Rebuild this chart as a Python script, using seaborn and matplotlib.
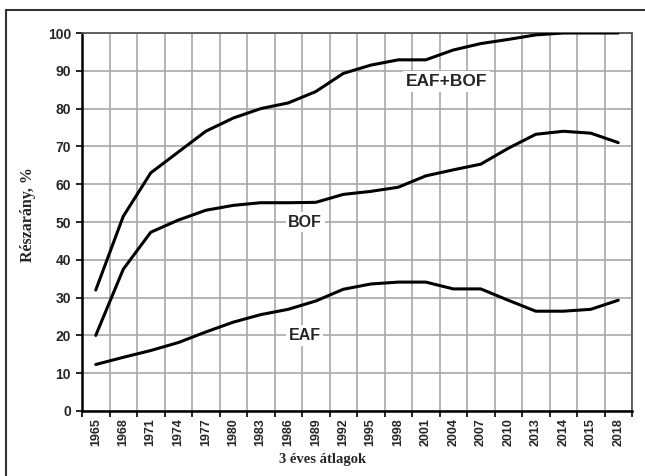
import numpy as np
import pandas as pd
import matplotlib
matplotlib.use("Agg")
import matplotlib.pyplot as plt
from matplotlib.lines import Line2D
import seaborn as sns

years = ['1965', '1968', '1971', '1974', '1977', '1980', '1983', '1986', '1989', '1992',
         '1995', '1998', '2001', '2004', '2007', '2010', '2013', '2014', '2015', '2018']
eaf_bof = [32, 51.5, 63, 68.5, 74, 77.5, 80, 81.5, 84.5, 89.3,
           91.5, 92.9, 92.9, 95.5, 97.2, 98.3, 99.5, 100, 100, 100]
bof = [20, 37.5, 47.3, 50.5, 53.1, 54.4, 55.1, 55.1, 55.2, 57.3,
       58.1, 59.2, 62.2, 63.8, 65.3, 69.5, 73.2, 74, 73.5, 71]
eaf = [12.3, 14.2, 16, 18.1, 20.9, 23.5, 25.5, 26.9, 29.1, 32.2,
       33.6, 34.1, 34.1, 32.3, 32.3, 29.3, 26.4, 26.4, 26.9, 29.3]
series_names = ['EAF+BOF', 'BOF', 'EAF']
y_ticks = [0, 10, 20, 30, 40, 50, 60, 70, 80, 90, 100]

df = pd.DataFrame({'year': years, 'EAF+BOF': eaf_bof, 'BOF': bof, 'EAF': eaf})
long = df.melt(id_vars='year', value_vars=series_names, var_name='series', value_name='value')

sns.set_style('white')
plt.rcParams['font.family'] = ['Liberation Sans', 'DejaVu Sans']

fig = plt.figure(figsize=(6.45, 4.76), dpi=100)
ax = fig.add_axes([82 / 645, 1 - 411 / 476, (632 - 82) / 645, (411 - 33) / 476])

sns.lineplot(data=long, x='year', y='value', hue='series', hue_order=series_names,
             palette={'EAF+BOF': 'black', 'BOF': 'black', 'EAF': 'black'},
             linewidth=2.2, legend=False, ax=ax, sort=False, zorder=3)

n = len(years)
ax.set_xlim(-0.5, n - 0.5)
ax.set_ylim(0, 100)
ax.set_xticks(range(n))
ax.set_xticklabels(years, rotation=90, fontsize=9, fontweight='bold')
ax.set_xticks(np.arange(-0.5, n, 1), minor=True)
ax.set_yticks(y_ticks)
ax.set_yticklabels([str(v) for v in y_ticks], fontsize=10, fontweight='bold')
ax.tick_params(axis='x', which='major', length=0, pad=5)
ax.tick_params(axis='x', which='minor', length=4, width=1.2, direction='out', bottom=True, color='black')
ax.tick_params(axis='y', which='major', length=4, width=1.2, direction='out', left=True, pad=4, color='black')

ax.grid(False)
ax.xaxis.grid(True, which='minor', color='#a8a8a8', linewidth=1.2)
ax.yaxis.grid(True, which='major', color='#a8a8a8', linewidth=1.2)
ax.set_axisbelow(True)

for s in ['left', 'bottom']:
    ax.spines[s].set_color('black')
    ax.spines[s].set_linewidth(1.8)
for s in ['top', 'right']:
    ax.spines[s].set_visible(True)
    ax.spines[s].set_color('#555555')
    ax.spines[s].set_linewidth(1.3)

ax.set_xlabel('')
ax.set_ylabel('')

box = dict(facecolor='white', edgecolor='none', pad=2)
ax.text(12.76, 87.1, 'EAF+BOF', ha='center', va='center', fontsize=12.5, fontweight='bold', bbox=box, zorder=4)
ax.text(7.62, 50, 'BOF', ha='center', va='center', fontsize=11.5, fontweight='bold', bbox=box, zorder=4)
ax.text(7.59, 20, 'EAF', ha='center', va='center', fontsize=11.5, fontweight='bold', bbox=box, zorder=4)

fig.text(323 / 645, 1 - 460 / 476, '3 éves átlagok', ha='center', va='center',
         fontsize=10.5, fontweight='bold', family=['Liberation Serif', 'DejaVu Serif'])
fig.text(27.5 / 645, 1 - 215 / 476, 'Részarány, %', ha='center', va='center', rotation=90,
         fontsize=11.5, fontweight='bold', family=['Liberation Serif', 'DejaVu Serif'])

fig.add_artist(Line2D([6 / 645, 6 / 645], [0, 1 - 10 / 476], transform=fig.transFigure,
                      color='#333333', linewidth=1.5))
fig.add_artist(Line2D([6 / 645, 1], [1 - 10 / 476, 1 - 10 / 476], transform=fig.transFigure,
                      color='#333333', linewidth=1.5))

fig.savefig('out.png', dpi=100, facecolor='white')
